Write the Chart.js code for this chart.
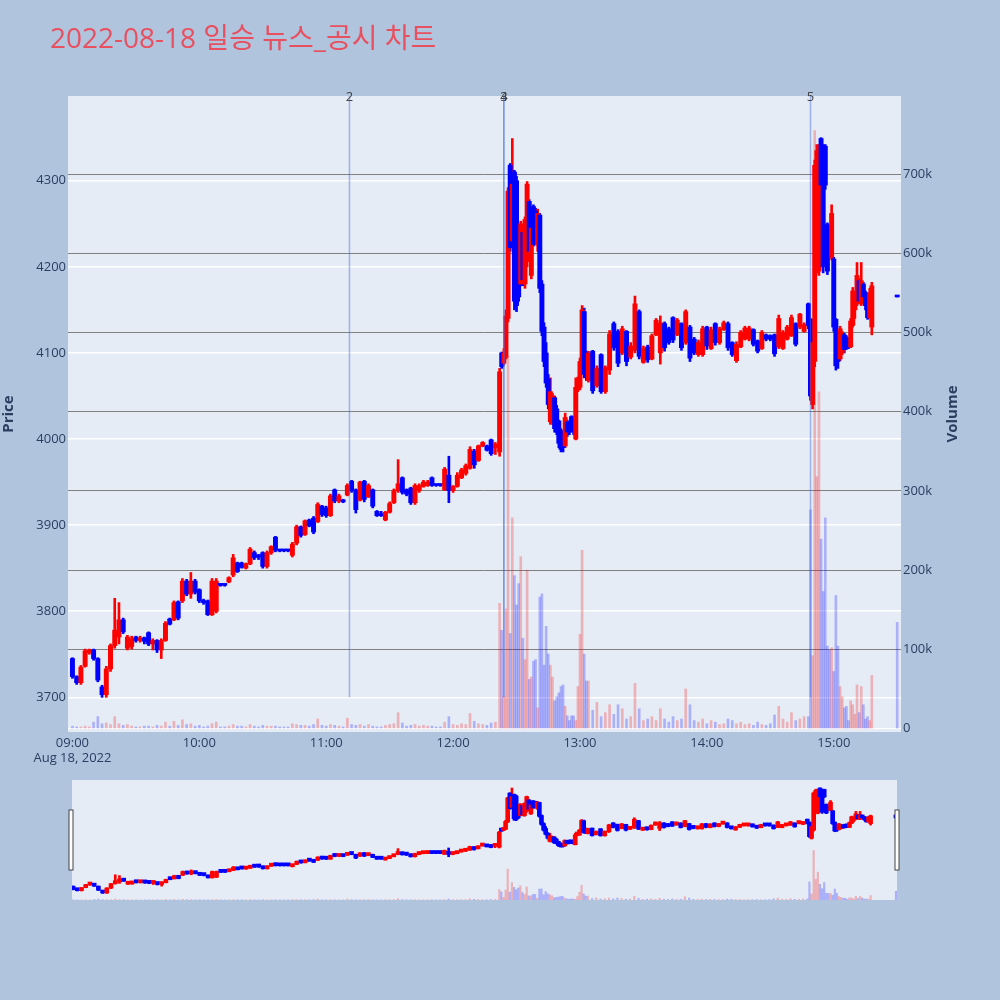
<!DOCTYPE html>
<html>
<head>
<meta charset="utf-8">
<script src="https://cdn.jsdelivr.net/npm/chart.js@4"></script>
<style>
  html, body { margin: 0; padding: 0; background: #b0c4de; }
  #main { position: absolute; left: 0; top: 0; }
  #slider { position: absolute; left: 60px; top: 775px; }
</style>
</head>
<body>
<canvas id="main" width="1000" height="775"></canvas>
<canvas id="slider" width="850" height="130"></canvas>
<script>
const chartTitle = '2022-08-18 일승 뉴스_공시 차트';
const dateLabel = 'Aug 18, 2022';

const times = [
  '09:00','09:02','09:04','09:06','09:08','09:10','09:12','09:14','09:16','09:18',
  '09:20','09:22','09:24','09:26','09:28','09:30','09:32','09:34','09:36','09:38',
  '09:40','09:42','09:44','09:46','09:48','09:50','09:52','09:54','09:56','09:58',
  '10:00','10:02','10:04','10:06','10:08','10:10','10:12','10:14','10:16','10:18',
  '10:20','10:22','10:24','10:26','10:28','10:30','10:32','10:34','10:36','10:38',
  '10:40','10:42','10:44','10:46','10:48','10:50','10:52','10:54','10:56','10:58',
  '11:00','11:02','11:04','11:06','11:08','11:10','11:12','11:14','11:16','11:18',
  '11:20','11:22','11:24','11:26','11:28','11:30','11:32','11:34','11:36','11:38',
  '11:40','11:42','11:44','11:46','11:48','11:50','11:52','11:54','11:56','11:58',
  '12:00','12:02','12:04','12:06','12:08','12:10','12:12','12:14','12:16','12:18',
  '12:20',
  '12:22','12:23','12:24','12:25','12:26','12:27','12:28','12:29','12:30','12:31',
  '12:32','12:33','12:34','12:35','12:36','12:37','12:38','12:39','12:40','12:41',
  '12:42','12:43','12:44','12:45','12:46','12:47','12:48','12:49','12:50','12:51',
  '12:52','12:53','12:54','12:55','12:56','12:57','12:58','12:59','13:00','13:01',
  '13:02','13:03',
  '13:04','13:06','13:08','13:10','13:12','13:14','13:16','13:18','13:20','13:22',
  '13:24','13:26','13:28','13:30','13:32','13:34','13:36','13:38','13:40','13:42',
  '13:44','13:46','13:48','13:50','13:52','13:54','13:56','13:58','14:00','14:02',
  '14:04','14:06','14:08','14:10','14:12','14:14','14:16','14:18','14:20','14:22',
  '14:24','14:26','14:28','14:30','14:32','14:34','14:36','14:38','14:40','14:42',
  '14:44','14:46',
  '14:48','14:49','14:50','14:51','14:52','14:53','14:54','14:55','14:56','14:57',
  '14:58','14:59','15:00','15:01','15:02','15:03','15:04','15:05','15:06','15:07',
  '15:08','15:09','15:10','15:11','15:12','15:13','15:14','15:15','15:16','15:17',
  '15:18','15:30'
];

const opens = [
  3745,3724,3717,3736,3752,3755,3745,3712,3703,3733,
  3760,3770,3790,3757,3759,3770,3766,3769,3775,3762,
  3766,3755,3766,3791,3790,3811,3812,3835,3820,3835,
  3825,3812,3812,3796,3800,3830,3830,3834,3842,3856,
  3856,3850,3855,3868,3864,3868,3852,3868,3886,3870,
  3870,3870,3865,3879,3898,3889,3906,3908,3904,3922,
  3920,3911,3941,3928,3929,3935,3951,3941,3929,3951,
  3933,3941,3916,3913,3906,3915,3926,3940,3955,3941,
  3943,3926,3940,3945,3946,3955,3946,3946,3941,3958,
  3940,3945,3955,3960,3966,3986,3975,3992,3992,3999,
  3990,
  3985,4100,4088,4095,4140,4318,4230,4310,4300,4232,
  4180,4240,4180,4206,4276,4190,4270,4265,4225,4260,
  4180,4130,4100,4070,4020,4020,4048,4035,4021,4010,
  4000,3992,4020,4018,4026,4015,4000,4060,4060,4085,
  4148,4100,
  4068,4102,4062,4098,4055,4080,4134,4125,4100,4125,
  4095,4103,4148,4089,4107,4093,4121,4100,4134,4128,
  4141,4121,4134,4112,4130,4116,4098,4098,4130,4105,
  4134,4112,4127,4134,4112,4091,4107,4116,4116,4127,
  4114,4105,4121,4120,4121,4107,4105,4116,4120,4134,
  4130,4125,
  4157,4139,4040,4090,4200,4195,4349,4340,4340,4249,
  4234,4211,4209,4139,4110,4093,4100,4121,4118,4115,
  4107,4132,4150,4157,4184,4157,4180,4170,4160,4141,
  4130,4165
];

const highs = [
  3746,3725,3737,3756,3756,3756,3746,3714,3736,3762,
  3815,3810,3792,3772,3771,3771,3771,3770,3776,3768,
  3767,3768,3788,3792,3812,3812,3838,3837,3845,3837,
  3826,3814,3813,3838,3838,3831,3831,3840,3866,3857,
  3857,3856,3874,3870,3866,3869,3870,3876,3887,3871,
  3871,3871,3880,3900,3899,3906,3907,3910,3926,3923,
  3922,3936,3942,3936,3930,3948,3952,3942,3951,3952,
  3948,3942,3917,3916,3916,3927,3942,3976,3956,3942,
  3944,3948,3948,3952,3952,3956,3947,3947,3967,3980,
  3946,3961,3966,3971,3991,3988,3993,3997,3993,4000,
  3996,
  4082,4101,4105,4150,4292,4320,4349,4312,4305,4235,
  4253,4242,4258,4299,4278,4247,4272,4268,4267,4262,
  4184,4135,4112,4075,4071,4053,4050,4039,4022,4012,
  4002,4030,4022,4020,4027,4020,4071,4072,4094,4155,
  4152,4102,
  4102,4103,4085,4099,4085,4126,4136,4127,4131,4126,
  4112,4166,4150,4108,4109,4122,4140,4143,4136,4130,
  4142,4140,4135,4150,4132,4118,4115,4131,4131,4130,
  4135,4130,4137,4136,4113,4113,4126,4131,4131,4128,
  4115,4126,4122,4121,4122,4144,4126,4132,4144,4135,
  4146,4135,
  4158,4140,4118,4324,4342,4342,4350,4342,4342,4251,
  4236,4272,4211,4140,4112,4131,4125,4123,4120,4117,
  4140,4176,4160,4205,4186,4205,4182,4172,4162,4175,
  4182,4165
];

const lows = [
  3722,3715,3715,3735,3750,3743,3718,3700,3700,3730,
  3757,3762,3774,3755,3756,3764,3764,3762,3760,3755,
  3752,3745,3765,3784,3789,3790,3810,3818,3815,3820,
  3810,3808,3795,3795,3798,3829,3829,3833,3840,3845,
  3850,3849,3854,3860,3860,3850,3850,3866,3869,3869,
  3869,3869,3863,3877,3886,3888,3898,3890,3903,3910,
  3909,3910,3926,3926,3926,3934,3938,3914,3928,3927,
  3932,3920,3910,3910,3905,3914,3925,3938,3936,3934,
  3924,3924,3938,3944,3945,3945,3945,3945,3940,3926,
  3938,3944,3954,3958,3965,3966,3974,3991,3986,3981,
  3982,
  3980,4082,4086,4093,4136,4218,4226,4150,4148,4160,
  4178,4178,4175,4200,4215,4186,4224,4226,4218,4170,
  4120,4084,4060,4035,4017,4017,4008,4005,3990,3985,
  3985,3990,4003,4005,4008,4005,3999,4055,4057,4080,
  4071,4068,
  4066,4053,4060,4053,4053,4075,4103,4084,4098,4085,
  4093,4100,4093,4088,4089,4092,4120,4087,4102,4110,
  4112,4120,4103,4110,4090,4098,4096,4096,4104,4104,
  4109,4110,4126,4103,4096,4089,4106,4115,4114,4108,
  4100,4104,4114,4114,4096,4105,4104,4115,4119,4108,
  4128,4124,
  4128,4045,4035,4084,4193,4190,4290,4193,4290,4191,
  4211,4208,4125,4080,4082,4091,4098,4100,4104,4105,
  4106,4130,4140,4155,4157,4155,4162,4150,4139,4140,
  4121,4165
];

const closes = [
  3724,3717,3735,3754,3755,3745,3720,3703,3733,3760,
  3778,3790,3776,3770,3768,3766,3769,3765,3762,3766,
  3755,3766,3786,3785,3810,3792,3835,3820,3835,3822,
  3812,3810,3796,3835,3835,3830,3830,3839,3862,3846,
  3851,3855,3872,3862,3863,3852,3868,3875,3871,3870,
  3870,3870,3878,3898,3888,3905,3899,3892,3924,3912,
  3911,3934,3928,3934,3927,3946,3940,3918,3950,3930,
  3946,3922,3911,3911,3915,3925,3940,3948,3938,3936,
  3926,3946,3946,3950,3950,3946,3946,3946,3965,3940,
  3945,3958,3964,3969,3988,3970,3992,3996,3987,3983,
  3994,
  4078,4084,4100,4143,4288,4222,4296,4160,4155,4165,
  4250,4185,4255,4296,4218,4245,4226,4230,4262,4175,
  4125,4090,4065,4040,4055,4050,4012,4008,3995,3988,
  3990,4025,4008,4010,4012,4008,4060,4070,4090,4150,
  4075,4072,
  4100,4056,4082,4055,4083,4122,4106,4088,4128,4090,
  4108,4157,4096,4105,4092,4120,4138,4135,4106,4112,
  4115,4138,4106,4148,4094,4100,4112,4128,4108,4127,
  4112,4128,4135,4106,4098,4110,4124,4129,4129,4110,
  4102,4124,4116,4116,4099,4140,4124,4130,4141,4110,
  4145,4133,
  4132,4050,4112,4318,4335,4338,4295,4200,4295,4195,
  4213,4262,4130,4085,4090,4128,4120,4104,4108,4110,
  4137,4172,4158,4190,4160,4184,4165,4155,4141,4170,
  4178,4165
];

// volume in thousands of shares
const volumes = [
  3,2,2,3,2,8,15,6,7,5,
  15,6,4,5,3,2,2,3,3,2,
  4,3,8,3,9,4,11,5,6,3,
  4,2,3,6,8,2,2,3,5,3,
  3,2,5,3,2,4,3,3,3,2,
  2,2,6,5,4,4,3,5,12,4,
  3,5,4,3,2,13,5,4,5,3,
  5,3,2,2,4,5,6,20,7,3,
  4,5,3,4,3,3,2,2,8,15,
  5,4,6,5,19,9,6,5,4,7,
  8,
  158,124,40,151,470,120,266,193,156,183,
  217,114,87,200,62,65,85,87,26,166,
  170,80,129,94,80,65,35,40,45,53,
  55,28,16,10,16,16,10,53,119,225,
  94,60,
  60,23,33,15,20,30,18,30,25,12,
  15,57,25,10,12,15,10,25,12,8,
  15,10,12,50,30,10,8,12,6,10,
  8,5,6,12,10,6,8,5,6,4,
  8,5,4,6,17,28,12,8,20,10,
  12,15,
  15,276,92,755,318,425,239,173,266,104,
  99,102,72,168,104,53,40,26,28,10,
  35,30,18,55,20,53,30,12,15,10,
  67,134
];

const xTickLabels = ['09:00','10:00','11:00','12:00','13:00','14:00','15:00'];
const priceTicks = [3700, 3800, 3900, 4000, 4100, 4200, 4300];
const volumeTicks = [0, 100, 200, 300, 400, 500, 600, 700];

const eventTimes = ['11:11', '12:24', '12:24', '14:49'];
const eventLabels = ['2', '3', '4', '5'];
const eventLineLow = 3700;

const priceMin = 3659.7, priceMax = 4398.4;
const TICK_COLOR = '#2a3f5f';
const UP = '#ff0000', DOWN = '#0000ff';
const UP_VOL = 'rgba(255,0,0,0.25)', DOWN_VOL = 'rgba(0,0,255,0.25)';

Chart.defaults.font.family = "'Open Sans', 'Noto Sans CJK KR', sans-serif";

const toMinutes = t => {
  const [h, m] = t.split(':').map(Number);
  return (h - 9) * 60 + m;
};
const isUp = i => closes[i] > opens[i];

function candleDatasets(bodyW, wickW, volW, minLen) {
  const xs = times.map(toMinutes);
  return [
    {
      label: 'Volume', yAxisID: 'y1', order: 3, grouped: false, barThickness: volW,
      data: xs.map((x, i) => ({ x, y: volumes[i] })),
      backgroundColor: c => isUp(c.dataIndex) ? UP_VOL : DOWN_VOL
    },
    {
      label: 'Wick', yAxisID: 'y', order: 2, grouped: false, barThickness: wickW,
      data: xs.map((x, i) => ({ x, y: [lows[i], highs[i]] })),
      backgroundColor: c => isUp(c.dataIndex) ? UP : DOWN
    },
    {
      label: 'Body', yAxisID: 'y', order: 1, grouped: false, barThickness: bodyW, minBarLength: minLen,
      data: xs.map((x, i) => ({ x, y: [opens[i], closes[i]] })),
      backgroundColor: c => isUp(c.dataIndex) ? UP : DOWN
    }
  ];
}

const plotBg = {
  id: 'plotBg',
  beforeDraw(chart) {
    const { ctx, chartArea: a } = chart;
    ctx.save();
    ctx.fillStyle = '#e5ecf6';
    ctx.fillRect(a.left, a.top, a.right - a.left, a.bottom - a.top);
    ctx.restore();
  }
};

const titleShift = {
  id: 'titleShift',
  afterLayout(chart) {
    if (chart.titleBlock) chart.titleBlock.left = 50;
  }
};

const eventLines = {
  id: 'eventLines',
  afterDatasetsDraw(chart) {
    const { ctx, chartArea: a, scales: { x, y } } = chart;
    ctx.save();
    eventTimes.forEach((t, i) => {
      const px = x.getPixelForValue(toMinutes(t));
      ctx.strokeStyle = 'rgba(65,105,225,0.45)';
      ctx.lineWidth = 1.5;
      ctx.beginPath();
      ctx.moveTo(px, y.getPixelForValue(eventLineLow));
      ctx.lineTo(px, a.top);
      ctx.stroke();
      ctx.fillStyle = '#444';
      ctx.font = "13px 'Open Sans'";
      ctx.textAlign = 'center';
      ctx.textBaseline = 'middle';
      ctx.fillText(eventLabels[i], px, a.top + 1);
    });
    ctx.restore();
  }
};

const volumeTitle = {
  id: 'volumeTitle',
  afterDraw(chart) {
    const { ctx, chartArea: a } = chart;
    ctx.save();
    ctx.translate(a.right + 52, (a.top + a.bottom) / 2);
    ctx.rotate(-Math.PI / 2);
    ctx.fillStyle = TICK_COLOR;
    ctx.font = "bold 15px 'Open Sans'";
    ctx.textAlign = 'center';
    ctx.textBaseline = 'middle';
    ctx.fillText('Volume', 0, 0);
    ctx.restore();
  }
};

new Chart(document.getElementById('main'), {
  type: 'bar',
  data: { datasets: candleDatasets(4.3, 2, 2, 2) },
  options: {
    responsive: false,
    animation: false,
    layout: { padding: 0 },
    plugins: {
      legend: { display: false },
      tooltip: { enabled: false },
      title: {
        display: true, text: chartTitle, align: 'start', color: '#e8505f',
        font: { size: 28, weight: 'normal' },
        padding: { top: 23, bottom: 39.4 }
      }
    },
    scales: {
      x: {
        type: 'linear', min: -2.1, max: 391.8, offset: false,
        grid: { display: false, drawTicks: false },
        border: { display: false },
        afterBuildTicks: s => { s.ticks = xTickLabels.map(t => ({ value: toMinutes(t) })); },
        afterFit: s => { s.height = 43; },
        ticks: {
          color: TICK_COLOR, font: { size: 13 }, padding: 3, maxRotation: 0, autoSkip: false,
          callback: (v, i) => i === 0 ? [xTickLabels[i], dateLabel] : xTickLabels[i]
        }
      },
      y: {
        position: 'left', min: priceMin, max: priceMax,
        grid: { color: '#ffffff', lineWidth: 1.5, drawTicks: false },
        border: { display: false },
        afterBuildTicks: s => { s.ticks = priceTicks.map(v => ({ value: v })); },
        afterFit: s => { s.width = 68; },
        ticks: { color: TICK_COLOR, font: { size: 13 }, padding: 2, callback: v => String(v) },
        title: {
          display: true, text: 'Price', color: TICK_COLOR,
          font: { size: 15, weight: 'bold' }, padding: { top: 0, bottom: 0 }
        }
      },
      y1: {
        position: 'right', min: -4.4, max: 798.6,
        grid: { color: c => c.tick && c.tick.value === 0 ? '#ffffff' : '#808080', lineWidth: 1, drawTicks: false },
        border: { display: false },
        afterBuildTicks: s => { s.ticks = volumeTicks.map(v => ({ value: v })); },
        afterFit: s => { s.width = 99; },
        ticks: { color: TICK_COLOR, font: { size: 13 }, padding: 2, callback: v => v === 0 ? '0' : v + 'k' }
      }
    }
  },
  plugins: [plotBg, titleShift, eventLines, volumeTitle]
});

// range slider
const sliderHandles = {
  id: 'sliderHandles',
  afterDraw(chart) {
    const { ctx, chartArea: a } = chart;
    const mid = (a.top + a.bottom) / 2;
    ctx.save();
    ctx.fillStyle = '#ffffff';
    ctx.strokeStyle = '#444';
    ctx.lineWidth = 1;
    [a.left - 1, a.right].forEach(cx => {
      ctx.fillRect(cx - 2, mid - 30, 4, 60);
      ctx.strokeRect(cx - 2, mid - 30, 4, 60);
    });
    ctx.restore();
  }
};

new Chart(document.getElementById('slider'), {
  type: 'bar',
  data: { datasets: candleDatasets(4, 2, 1.5, 3) },
  options: {
    responsive: false,
    animation: false,
    layout: { padding: { left: 12, right: 13, top: 5, bottom: 5 } },
    plugins: { legend: { display: false }, tooltip: { enabled: false } },
    scales: {
      x: { type: 'linear', display: false, min: -0.5, max: 390.5, offset: false },
      y: { display: false, min: priceMin, max: priceMax },
      y1: { display: false, min: 0, max: 1832 }
    }
  },
  plugins: [plotBg, sliderHandles]
});
</script>
</body>
</html>
